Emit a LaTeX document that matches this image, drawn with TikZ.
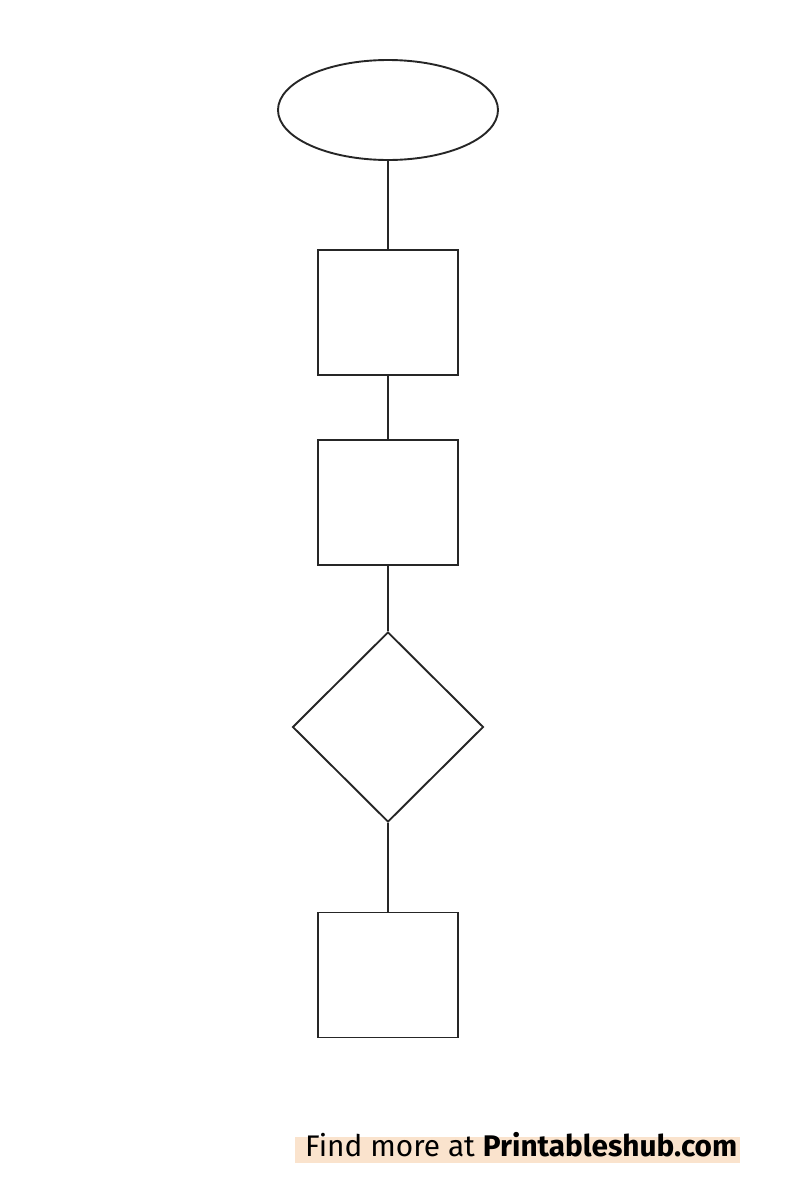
\documentclass[tikz,border=0pt]{standalone}
\usepackage{fontspec}
\setmainfont{Fira Sans}
\usetikzlibrary{shapes.geometric}
\definecolor{hl}{HTML}{FAE3CD}
\begin{document}
\begin{tikzpicture}[x=1pt,y=-1pt,
  shape line/.style={draw=black!85,line width=1.9pt},
  boxnode/.style={shape line,rectangle,minimum width=140pt,minimum height=125pt,inner sep=0pt},
  conn/.style={draw=black!85,line width=1.9pt}]
\useasboundingbox (0,0) rectangle (796,1202);
\node[shape line,ellipse,minimum width=220pt,minimum height=100pt,inner sep=0pt] (start) at (388,110) {};
\node[boxnode] (b1) at (388,312.5) {};
\node[boxnode] (b2) at (388,502.5) {};
\node[shape line,diamond,minimum width=191pt,minimum height=190pt,inner sep=0pt] (dec) at (388,727) {};
\node[boxnode] (b3) at (388,975) {};
\draw[conn] (start) -- (b1);
\draw[conn] (b1) -- (b2);
\draw[conn] (b2) -- (dec);
\draw[conn] (dec) -- (b3);
\fill[hl] (295,1137) rectangle (740,1163);
\node[anchor=base west,inner sep=0pt] (credit) at (305,1156) {\resizebox{432pt}{!}{Find more at \textbf{Printableshub.com}}};
\end{tikzpicture}
\end{document}
